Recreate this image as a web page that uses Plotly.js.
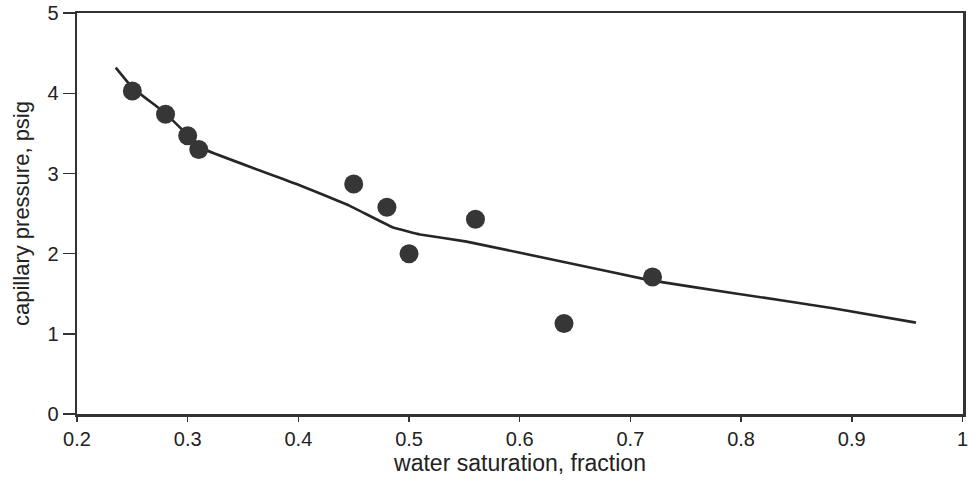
<!DOCTYPE html>
<html>
<head>
<meta charset="utf-8">
<script src="https://cdn.plot.ly/plotly-3.0.1.min.js"></script>
<style>html,body{margin:0;padding:0;background:#fff;}#chart{width:975px;height:480px;}</style>
</head>
<body>
<div id="chart"></div>
<script>
// measured data points
var satPoints = [0.25, 0.28, 0.30, 0.31, 0.45, 0.48, 0.50, 0.56, 0.64, 0.72];
var pcPoints  = [4.03, 3.74, 3.47, 3.30, 2.87, 2.58, 2.00, 2.43, 1.13, 1.71];
// fitted curve
var satCurve = [0.235, 0.25, 0.28, 0.30, 0.317, 0.40, 0.446, 0.485, 0.51, 0.552, 0.642, 0.717, 0.792, 0.883, 0.958];
var pcCurve  = [4.32, 4.07, 3.75, 3.48, 3.29, 2.86, 2.60, 2.33, 2.24, 2.15, 1.89, 1.67, 1.51, 1.32, 1.14];
var xTicks = [0.2, 0.3, 0.4, 0.5, 0.6, 0.7, 0.8, 0.9, 1];
var xTickText = ["0.2", "0.3", "0.4", "0.5", "0.6", "0.7", "0.8", "0.9", "1"];
var yTicks = [0, 1, 2, 3, 4, 5];

var traces = [
  {x: satCurve, y: pcCurve, mode: 'lines', type: 'scatter',
   line: {color: '#262626', width: 2.6, shape: 'spline', smoothing: 0.2}, hoverinfo: 'skip'},
  {x: satPoints, y: pcPoints, mode: 'markers', type: 'scatter',
   marker: {color: '#363636', size: 19, line: {width: 0}}}
];
var fam = 'Liberation Sans, Arial, sans-serif';
var axisFont = {family: fam, size: 20, color: '#222'};
var layout = {
  width: 975, height: 480,
  margin: {l: 77, r: 12, t: 13, b: 66},
  paper_bgcolor: '#fff', plot_bgcolor: '#fff',
  showlegend: false,
  xaxis: {
    range: [0.2, 1.0005], tickvals: xTicks, ticktext: xTickText,
    ticks: 'outside', ticklen: 5, tickwidth: 1.5, tickcolor: '#333',
    showline: true, linecolor: '#333', linewidth: 2.5, mirror: true,
    showgrid: false, zeroline: false, tickfont: axisFont, ticklabeloverflow: 'allow',
    title: {text: 'water saturation, fraction', font: {family: fam, size: 23, color: '#222'}, standoff: 7}
  },
  yaxis: {
    range: [0, 5.002], tickvals: yTicks,
    ticks: 'outside', ticklen: 12, tickwidth: 1.5, tickcolor: '#333',
    showline: true, linecolor: '#333', linewidth: 2.5, mirror: true,
    showgrid: false, zeroline: false, tickfont: axisFont, ticklabeloverflow: 'allow',
    title: {text: 'capillary pressure, psig', font: {family: fam, size: 22, color: '#222'}, standoff: 12}
  }
};
Plotly.newPlot('chart', traces, layout, {displayModeBar: false, staticPlot: true});
</script>
</body>
</html>
